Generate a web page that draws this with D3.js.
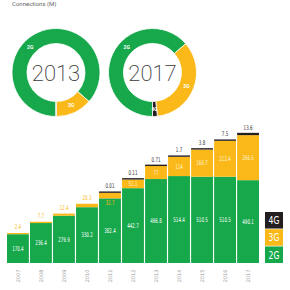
<!DOCTYPE html>
<html>
<head>
<meta charset="utf-8">
<script src="https://cdn.jsdelivr.net/npm/d3@7"></script>
<style>
  body { margin: 0; background: #fff; }
  svg text { font-family: "DejaVu Sans", sans-serif; }
</style>
</head>
<body>
<svg id="chart"></svg>
<script>
var years = ['2007','2008','2009','2010','2011','2012','2013','2014','2015','2016','2017'];
var values2G = [170.4, 236.4, 279.9, 330.2, 382.4, 442.7, 496.8, 514.4, 510.5, 510.5, 490.1];
var values3G = [2.4, 7.7, 12.4, 20.3, 32.7, 51.1, 77, 114, 160.7, 212.4, 266.5];
var values4G = [0, 0, 0, 0, 0.01, 0.11, 0.71, 1.7, 3.8, 7.5, 13.6];
var labels2G = ['170.4','236.4','279.9','330.2','382.4','442.7','496.8','514.4','510.5','510.5','490.1'];
var labels3G = ['2.4','7.7','12.4','20.3','32.7','51.1','77','114','160.7','212.4','266.5'];
var labels4G = ['','','','','0.01','0.11','0.71','1.7','3.8','7.5','13.6'];
var donutYears = ['2013', '2017'];
var techs = ['2G', '3G', '4G'];

var options = {
    width: 290,
    height: 290,
    baseline: 263,
    barLeft: 7,
    barRight: 259,
    outerR: 44,
    innerR: 29,
    donutY: 72.5
};
var colors = {'2G': '#16a84b', '3G': '#fbb919', '4G': '#231f20'};

var svg = d3.select('#chart')
    .attr('width', options.width)
    .attr('height', options.height);

// condensed looking text: squeeze horizontally
function narrow(parent, x, y, txt, size, fill, sx) {
    return parent.append('text')
        .attr('transform', 'translate(' + x + ',' + y + ')scale(' + (sx || 0.62) + ',1)')
        .style('text-anchor', 'middle')
        .style('font-size', size)
        .style('fill', fill)
        .text(txt);
}

svg.append('text')
    .attr('x', 12)
    .attr('y', 5.5)
    .style('font-family', 'Roboto, sans-serif')
    .style('font-size', '6px')
    .style('fill', '#666')
    .text('Connections (M)');

// ---- bars
var xScale = d3.scaleBand().domain(years).range([options.barLeft, options.barRight]).paddingInner(0.05);
var yScale = d3.scaleLinear().domain([0, 800]).range([options.baseline, options.baseline - 135.2]);

var rows = years.map(function(y, i) {
    return {year: y, '2G': values2G[i], '3G': values3G[i], '4G': values4G[i]};
});
var stack = d3.stack().keys(techs)(rows);
var minH = {'2G': 0, '3G': 1.2, '4G': 1.4};

var barG = svg.append('g').attr('class', 'bars');
var tops = years.map(function() { return options.baseline; });

stack.forEach(function(layer) {
    var key = layer.key;
    layer.forEach(function(d, i) {
        if (d.data[key] <= 0) return;
        var h = Math.max(yScale(d[0]) - yScale(d[1]), minH[key]);
        var yTop = tops[i] - h;
        barG.append('rect')
            .attr('x', xScale(d.data.year))
            .attr('y', yTop)
            .attr('width', xScale.bandwidth())
            .attr('height', h)
            .style('fill', colors[key]);
        tops[i] = yTop;
        d.top = yTop;
        d.h = h;
    });
});

var cx = function(i) { return xScale(years[i]) + xScale.bandwidth() / 2; };
var numFont = '6.5px';

// 2G labels
stack[0].forEach(function(d, i) {
    narrow(barG, cx(i), d.top + d.h / 2 + 2.3, labels2G[i], numFont, '#fff');
});

// 3G labels
stack[1].forEach(function(d, i) {
    if (values4G[i] === 0) {
        narrow(barG, cx(i), d.top - 4, labels3G[i], numFont, colors['3G']);
    } else if (d.h < 8) {
        narrow(barG, cx(i), d.top + d.h + 6.5, labels3G[i], numFont, colors['3G']);
    } else {
        narrow(barG, cx(i), d.top + d.h / 2 + 2.3, labels3G[i], numFont, '#fdf1cf');
    }
});

// 4G labels
stack[2].forEach(function(d, i) {
    if (!labels4G[i]) return;
    narrow(barG, cx(i), d.top - 3, labels4G[i], numFont, '#333');
});

// year ticks
years.forEach(function(y, i) {
    svg.append('text')
        .attr('transform', 'translate(' + (cx(i) + 1.8) + ',276)rotate(-90)')
        .style('text-anchor', 'middle')
        .style('font-size', '5px')
        .style('fill', '#999')
        .text(y);
});

// legend
var legendTechs = ['4G', '3G', '2G'];
var legY = d3.scaleBand().domain(legendTechs).range([212, 263]).paddingInner(0.04);
legendTechs.forEach(function(k) {
    svg.append('rect')
        .attr('x', 265)
        .attr('y', legY(k))
        .attr('width', 18)
        .attr('height', legY.bandwidth())
        .style('fill', colors[k]);
    narrow(svg, 274, legY(k) + legY.bandwidth() / 2 + 3.8, k, '11px', '#fff', 0.7);
});

// ---- donuts
var donutX = d3.scalePoint().domain(donutYears).range([56, 152.5]);
var pie = d3.pie().sort(null).value(function(d) { return d.v; })
    .startAngle(Math.PI).endAngle(3 * Math.PI);
var arc = d3.arc().innerRadius(options.innerR).outerRadius(options.outerR);
var midR = (options.innerR + options.outerR) / 2;

donutYears.forEach(function(yr) {
    var i = years.indexOf(yr);
    var parts = techs.map(function(k, j) { return {k: k, v: [values2G, values3G, values4G][j][i]}; });
    var g = svg.append('g').attr('transform', 'translate(' + donutX(yr) + ',' + options.donutY + ')');
    var arcs = pie(parts);
    g.selectAll('path').data(arcs).enter().append('path')
        .attr('d', arc)
        .style('fill', function(d) { return colors[d.data.k]; })
        .style('stroke', '#fff')
        .style('stroke-width', 0.8);
    g.selectAll('.lbl').data(arcs.filter(function(d) { return d.data.v > 1; })).enter().append('text')
        .attr('class', 'lbl')
        .attr('x', function(d) {
            var a = d.data.k === '2G' ? -Math.PI / 4 : (d.startAngle + d.endAngle) / 2;
            return Math.sin(a) * midR;
        })
        .attr('y', function(d) {
            var a = d.data.k === '2G' ? -Math.PI / 4 : (d.startAngle + d.endAngle) / 2;
            return -Math.cos(a) * midR + 1.8;
        })
        .style('text-anchor', 'middle')
        .style('font-family', 'Roboto, sans-serif')
        .style('font-weight', 'bold')
        .style('font-size', '5px')
        .style('fill', '#fff')
        .text(function(d) { return d.data.k; });
    g.append('text')
        .attr('y', 8.5)
        .style('text-anchor', 'middle')
        .style('font-family', 'Roboto, sans-serif')
        .style('font-weight', 200)
        .style('font-size', '22px')
        .style('fill', '#3a3a3a')
        .text(yr);
});
</script>
</body>
</html>
